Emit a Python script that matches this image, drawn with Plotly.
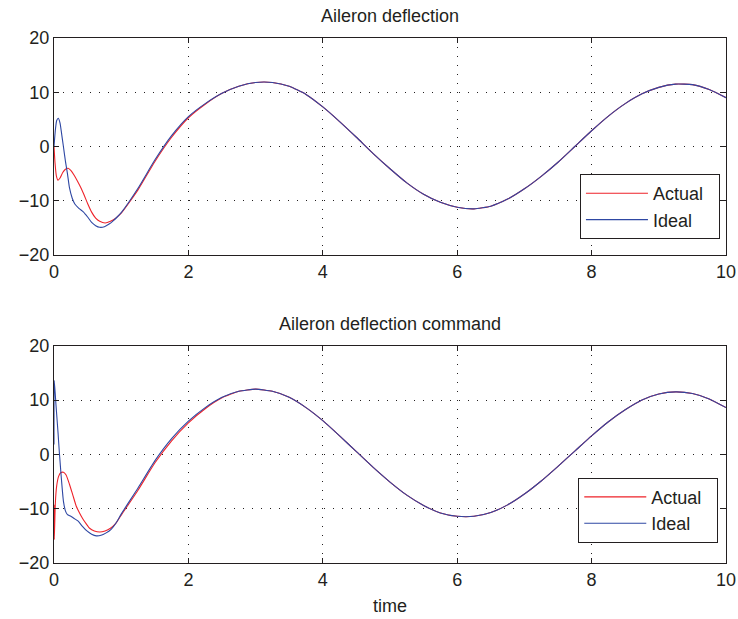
import plotly.graph_objects as go

# ---------------- data ----------------
main_t = [1.0, 1.25, 1.5, 1.75, 2.0, 2.25, 2.5, 2.75, 3.0, 3.25, 3.5, 3.75,
          4.0, 4.25, 4.5, 4.75, 5.0, 5.25, 5.5, 5.75, 6.0, 6.25, 6.5, 6.75,
          7.0, 7.25, 7.5, 7.75, 8.0, 8.25, 8.5, 8.75, 9.0, 9.25, 9.5, 9.75, 10.0]

# Top panel: Aileron deflection
top_ideal_main = [-12.2, -7.7, -2.5, 2.0, 5.5, 7.9, 9.8, 11.1, 11.8, 11.8, 11.1, 9.6,
                  7.3, 4.6, 1.7, -1.3, -4.1, -6.7, -8.8, -10.3, -11.2, -11.5, -11.0, -9.7,
                  -7.8, -5.5, -2.9, 0.0, 2.9, 5.6, 7.9, 9.7, 10.9, 11.5, 11.4, 10.5, 9.0]
top_actual_main = [-12.3, -8.0, -2.8, 1.7, 5.3, 7.8, 9.8, 11.1, 11.8, 11.8, 11.1, 9.6,
                   7.3, 4.6, 1.7, -1.3, -4.1, -6.7, -8.8, -10.3, -11.2, -11.5, -11.0, -9.7,
                   -7.8, -5.5, -2.9, 0.0, 2.9, 5.6, 7.9, 9.7, 10.9, 11.5, 11.4, 10.5, 9.0]

top_ideal_t0 = [0, 0.02, 0.04, 0.065, 0.09, 0.115, 0.14, 0.17, 0.2, 0.23, 0.27, 0.31,
                0.37, 0.44, 0.5, 0.56, 0.62, 0.68, 0.75, 0.82, 0.88, 0.94]
top_ideal_v0 = [0, 3.0, 4.8, 5.2, 4.3, 2.2, 0, -2.7, -5.0, -7.6, -9.5, -10.6,
                -11.4, -12.1, -13.0, -14.0, -14.6, -14.9, -14.8, -14.3, -13.7, -13.0]
top_actual_t0 = [0, 0.015, 0.035, 0.06, 0.09, 0.13, 0.17, 0.21, 0.25, 0.3, 0.35,
                 0.4, 0.45, 0.5, 0.56, 0.62, 0.68, 0.76, 0.84, 0.92]
top_actual_v0 = [0, -3.0, -5.4, -6.2, -5.8, -4.8, -4.2, -4.0, -4.4, -5.3, -6.4,
                 -7.6, -9.0, -10.5, -12.1, -13.2, -13.8, -14.1, -13.8, -13.2]

# Bottom panel: Aileron deflection command
bot_ideal_main = [-11.0, -6.2, -1.2, 2.9, 6.1, 8.6, 10.5, 11.6, 12.0, 11.6, 10.5, 8.6,
                  6.2, 3.4, 0.5, -2.4, -5.1, -7.5, -9.4, -10.8, -11.4, -11.4, -10.7, -9.3,
                  -7.3, -4.9, -2.2, 0.6, 3.4, 6.0, 8.2, 10.0, 11.1, 11.5, 11.2, 10.2, 8.6]
bot_actual_main = [-11.2, -6.6, -1.6, 2.5, 5.8, 8.4, 10.4, 11.6, 12.0, 11.6, 10.5, 8.6,
                   6.2, 3.4, 0.5, -2.4, -5.1, -7.5, -9.4, -10.8, -11.4, -11.4, -10.7, -9.3,
                   -7.3, -4.9, -2.2, 0.6, 3.4, 6.0, 8.2, 10.0, 11.1, 11.5, 11.2, 10.2, 8.6]

bot_ideal_t0 = [0, 0.004, 0.03, 0.06, 0.08, 0.11, 0.14, 0.17, 0.2, 0.25, 0.3, 0.36,
                0.42, 0.49, 0.56, 0.63, 0.7, 0.77, 0.85, 0.93]
bot_ideal_v0 = [1.8, 13.6, 9.0, 4.0, 0.3, -4.5, -8.6, -10.4, -11.1, -11.4, -11.8, -12.3,
                -13.2, -14.1, -14.7, -15.0, -14.9, -14.5, -13.8, -12.5]
bot_actual_t0 = [0, 0.004, 0.02, 0.04, 0.07, 0.1, 0.14, 0.18, 0.23, 0.28, 0.33, 0.38,
                 0.43, 0.48, 0.53, 0.6, 0.68, 0.76, 0.84, 0.92]
bot_actual_v0 = [-9.3, -15.7, -9.0, -5.8, -4.0, -3.4, -3.3, -3.8, -5.5, -7.5, -9.5, -10.8,
                 -11.9, -12.8, -13.6, -14.1, -14.3, -14.1, -13.6, -12.7]

x_ticks = [0, 2, 4, 6, 8, 10]
y_ticks = [-20, -10, 0, 10, 20]

titles = ["Aileron deflection", "Aileron deflection command"]
x_label = "time"
series_names = ["Actual", "Ideal"]

# ---------------- styling ----------------
RED = "#ee2229"
BLUE = "#2e47a3"
INK = "#231f20"
FONT = "Liberation Sans, Arial, Helvetica, sans-serif"
PAD = "\u00a0\u00a0"

fig = go.Figure()

def add_pair(tA, vA, tI, vI, xa, ya, leg):
    fig.add_trace(go.Scatter(x=tA, y=vA, mode="lines", name=series_names[0] + PAD,
                             line=dict(color=RED, width=1.1, shape="spline", smoothing=0.5),
                             xaxis=xa, yaxis=ya, legend=leg))
    fig.add_trace(go.Scatter(x=tI, y=vI, mode="lines", name=series_names[1] + PAD,
                             line=dict(color=BLUE, width=1.1, shape="spline", smoothing=0.5),
                             xaxis=xa, yaxis=ya, legend=leg))

add_pair(top_actual_t0 + main_t, top_actual_v0 + top_actual_main,
         top_ideal_t0 + main_t, top_ideal_v0 + top_ideal_main, "x", "y", "legend")
add_pair(bot_actual_t0 + main_t, bot_actual_v0 + bot_actual_main,
         bot_ideal_t0 + main_t, bot_ideal_v0 + bot_ideal_main, "x2", "y2", "legend2")

axis_common = dict(
    showline=True, linecolor=INK, linewidth=1, mirror="ticks",
    ticks="inside", ticklen=5, tickcolor=INK, tickwidth=1,
    showgrid=True, gridcolor=INK, gridwidth=1, griddash="1px,8px",
    zeroline=False, automargin=False,
    tickfont=dict(family=FONT, size=18, color=INK),
)

legend_common = dict(
    bgcolor="white", bordercolor=INK, borderwidth=1,
    font=dict(family=FONT, size=18, color=INK),
    xanchor="right", yanchor="top", itemwidth=62,
    tracegroupgap=0,
)

fig.update_layout(
    width=738, height=619,
    margin=dict(l=54, r=12, t=38, b=56),
    paper_bgcolor="white", plot_bgcolor="white",
    font=dict(family=FONT, size=18, color=INK),
    xaxis=dict(domain=[0, 1], range=[0, 10], tickvals=x_ticks, anchor="y", **axis_common),
    yaxis=dict(domain=[0.5867, 1], range=[-20, 20], tickvals=y_ticks, anchor="x", **axis_common),
    xaxis2=dict(domain=[0, 1], range=[0, 10], tickvals=x_ticks, anchor="y2", **axis_common),
    yaxis2=dict(domain=[0, 0.4139], range=[-20, 20], tickvals=y_ticks, anchor="x2", **axis_common),
    legend=dict(x=0.991, y=0.741, **legend_common),
    legend2=dict(x=0.9885, y=0.1625, **legend_common),
    showlegend=True,
    annotations=[
        dict(text=titles[0], x=0.5, y=1.0419, xref="paper", yref="paper",
             xanchor="center", yanchor="middle", showarrow=False,
             font=dict(family=FONT, size=18, color=INK)),
        dict(text=titles[1], x=0.5, y=0.4552, xref="paper", yref="paper",
             xanchor="center", yanchor="middle", showarrow=False,
             font=dict(family=FONT, size=18, color=INK)),
        dict(text=x_label, x=0.5, y=-0.0819, xref="paper", yref="paper",
             xanchor="center", yanchor="middle", showarrow=False,
             font=dict(family=FONT, size=18, color=INK)),
    ],
)

fig.write_html("out.html")
